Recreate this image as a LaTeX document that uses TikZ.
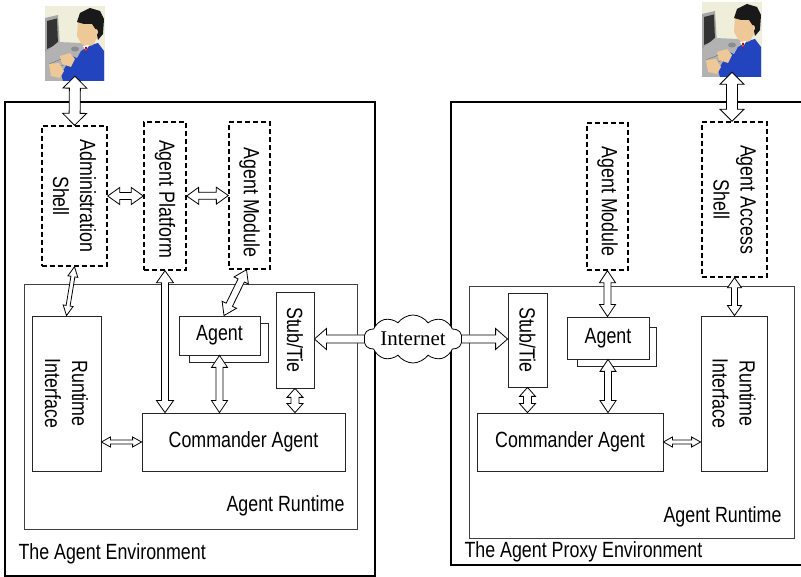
\documentclass[tikz,border=0pt]{standalone}
\usepackage{fontspec}
\setmainfont{Liberation Sans}[FakeStretch=0.81]
\newfontfamily\inetfont{Liberation Serif}
\usetikzlibrary{shapes.symbols,calc}

\definecolor{opbg}{RGB}{238,238,218}
\definecolor{jacket}{RGB}{34,68,190}
\definecolor{skin}{RGB}{238,200,150}

\tikzset{
  lbl/.style={font=\fontsize{22}{27}\selectfont},
  solidbox/.style={draw=black!85, line width=0.8pt, fill=white, inner sep=0pt},
  dashbox/.style={draw, line width=1.4pt, dash pattern=on 5pt off 3pt, fill=white, inner sep=0pt},
  envbox/.style={draw, line width=2.2pt, inner sep=0pt},
  runbox/.style={draw=black!75, line width=0.8pt, inner sep=0pt},
  vtext/.style={lbl, rotate=-90, align=center, inner sep=0pt},
  blockarrow/.style={draw, fill=white, line width=0.8pt, line join=miter},
  operator/.pic={
    \fill[opbg] (0,0) rectangle (60,75);
    % monitor
    \fill[black!35] (0,12) -- (13,9) -- (15,41) -- (0,47) -- cycle;
    \fill[black!80] (2,15) -- (12,12.5) -- (13,38) -- (2,43) -- cycle;
    % console and keyboard
    \fill[black!30] (0,47) -- (13,36) -- (36,37) -- (42,42) -- (30,75) -- (0,75) -- cycle;
    \draw[black!55, line width=0.4pt] (4,58) -- (24,50) (6,64) -- (26,56) (8,70) -- (28,62);
    \fill[black!45] (30,43) ellipse (4 and 2.5);
    % jacket and sleeve
    \fill[jacket] (27,75) -- (30,56) -- (36,45) -- (46,39) -- (53,37) -- (59,45) -- (59,75) -- cycle;
    \fill[jacket] (27,50) -- (34,53) -- (29,75) -- (18,75) -- (16,68) -- cycle;
    % face, hair, ear
    \fill[skin] (33,14) -- (50,16) -- (52,32) -- (48,39) -- (41,41) -- (36,37) -- (32,30) -- cycle;
    \fill[black!90] (32,16) -- (35,7) -- (45,2) -- (55,5) -- (59,13) -- (58,28) -- (53,34) -- (51,24) -- (47,18) -- (39,18) -- cycle;
    \fill[skin] (51,26) ellipse (2 and 3);
    % collar and tie
    \fill[white] (38,40) -- (44,39) -- (41,45) -- cycle;
    \fill[red!75!black] (40,41) -- (42,41) -- (41,48) -- cycle;
    % hands
    \fill[skin] (15,50) -- (25,47) -- (30,53) -- (26,61) -- (17,58) -- cycle;
    \fill[skin] (4,58) -- (14,57) -- (19,65) -- (15,72) -- (6,70) -- cycle;
  }
}

% hollow block arrow between two points:
% #1 = 1 for two heads, 0 for one head at the end; #2 from; #3 to;
% #4 shaft width; #5 head width; #6 head length
\newcommand\barrow[6]{%
  \path let \p1=(#2), \p2=(#3) in \pgfextra{%
    \pgfmathsetmacro\baA{atan2(\y2-\y1,\x2-\x1)}%
    \pgfmathsetmacro\baL{veclen(\x2-\x1,\y2-\y1)}%
    \xdef\baAg{\baA}\xdef\baLg{\baL}\xdef\baXg{\x1}\xdef\baYg{\y1}};
  \pgfmathsetmacro\baW{#5/2}%
  \pgfmathsetmacro\baw{#4/2}%
  \pgfmathsetmacro\baE{\baLg-#6}%
  \begin{scope}[shift={(\baXg,\baYg)}, rotate=\baAg]
    \ifnum#1=1
      \draw[blockarrow] (0,0) -- (#6,\baW) -- (#6,\baw) -- (\baE,\baw) -- (\baE,\baW)
        -- (\baLg,0) -- (\baE,-\baW) -- (\baE,-\baw) -- (#6,-\baw) -- (#6,-\baW) -- cycle;
    \else
      \fill[white] (0,\baw) -- (\baE,\baw) -- (\baE,\baW) -- (\baLg,0) -- (\baE,-\baW)
        -- (\baE,-\baw) -- (0,-\baw) -- cycle;
      \draw[blockarrow] (0,\baw) -- (\baE,\baw) -- (\baE,\baW) -- (\baLg,0) -- (\baE,-\baW)
        -- (\baE,-\baw) -- (0,-\baw);
    \fi
  \end{scope}%
}

\begin{document}
\begin{tikzpicture}[x=1pt, y=-1pt]
\useasboundingbox (0,0) rectangle (801,577);
\clip (0,0) rectangle (801,577);
\fill[white] (0,0) rectangle (801,577);

% ---------- environments ----------
\node[envbox, minimum width=370pt, minimum height=474pt] (envL) at (190,339) {};
\node[envbox, minimum width=351pt, minimum height=463pt] (envR) at (626.5,333.5) {};
\node[runbox, minimum width=333pt, minimum height=245pt] (runL) at (190.5,406.5) {};
\node[runbox, minimum width=325pt, minimum height=252pt] (runR) at (631.5,412) {};

\node[lbl, anchor=base west] (envLtxt) at (15,559) {The Agent Environment};
\node[lbl, anchor=base west] (envRtxt) at (461,557) {The Agent Proxy Environment};
\node[lbl, anchor=base east] (runLtxt) at (348,511) {Agent Runtime};
\node[lbl, anchor=base east] (runRtxt) at (785,522) {Agent Runtime};

% ---------- operators ----------
\pic at (45,6) {operator};
\node[inner sep=0pt, minimum width=60pt, minimum height=75pt] (userL) at (75,43.5) {};
\pic at (702,2) {operator};
\node[inner sep=0pt, minimum width=60pt, minimum height=75pt] (userR) at (732,39.5) {};

% ---------- agent environment ----------
\node[dashbox, minimum width=65pt, minimum height=140pt] (adm) at (74.5,196) {};
\node[vtext] at (adm.center) {Administration\\Shell};
\node[dashbox, minimum width=42pt, minimum height=148pt] (plat) at (165,196) {};
\node[vtext] at ([yshift=-3pt]plat.center) {Agent Platform};
\node[dashbox, minimum width=41pt, minimum height=147pt] (modL) at (249.5,195.5) {};
\node[vtext] at ([yshift=-7pt]modL.center) {Agent Module};

\node[solidbox, minimum width=69pt, minimum height=155pt] (riL) at (66.5,393.5) {};
\node[vtext] at (riL.center) {Runtime\\Interface};
\node[solidbox, lbl, minimum width=203pt, minimum height=58pt] (cmdL) at (243.5,442) {Commander Agent};
\node[solidbox, minimum width=79pt, minimum height=39pt] (agLb) at (228.5,342.5) {};
\node[solidbox, lbl, minimum width=81pt, minimum height=39pt] (agL) at (219.5,335.5) {Agent};
\node[solidbox, minimum width=38pt, minimum height=96pt] (stubL) at (295,340) {};
\node[vtext] at (stubL.center) {Stub/Tie};

% ---------- agent proxy environment ----------
\node[dashbox, minimum width=41pt, minimum height=147pt] (modR) at (607.5,196.5) {};
\node[vtext] at ([yshift=-5pt]modR.center) {Agent Module};
\node[dashbox, minimum width=65pt, minimum height=155pt] (acc) at (734.5,199.5) {};
\node[vtext] at (acc.center) {Agent Access\\Shell};

\node[solidbox, minimum width=39pt, minimum height=94pt] (stubR) at (527.5,340) {};
\node[vtext] at (stubR.center) {Stub/Tie};
\node[solidbox, minimum width=79pt, minimum height=39pt] (agRb) at (616.5,346.5) {};
\node[solidbox, lbl, minimum width=82pt, minimum height=42pt] (agR) at (608,338) {Agent};
\node[solidbox, minimum width=66pt, minimum height=155pt] (riR) at (734,393.5) {};
\node[vtext] at (riR.center) {Runtime\\Interface};
\node[solidbox, lbl, minimum width=186pt, minimum height=58pt] (cmdR) at (570,442) {Commander Agent};

% ---------- network ----------
\node[cloud, draw, fill=white, line width=0.8pt, cloud puffs=10, cloud puff arc=110,
      cloud ignores aspect, minimum width=98pt, minimum height=48pt, inner sep=0pt,
      font=\inetfont\fontsize{21}{24}\selectfont] (cloud) at (413,339) {Internet};

% ---------- connectors ----------
\barrow{1}{[yshift=5pt]userL.south}{adm.north}{11}{24}{12}
\barrow{1}{adm.east}{plat.west}{7}{17}{12}
\barrow{1}{plat.east}{modL.west}{7}{17}{12}
\barrow{1}{adm.south}{riL.north}{4}{10}{10}
\barrow{1}{plat.south}{plat.south |- cmdL.north}{7}{17}{12}
\barrow{1}{[xshift=-3pt]modL.south}{[xshift=4.5pt]agL.north}{7}{16}{12}
\barrow{1}{agL.south}{agL.south |- cmdL.north}{7}{16}{12}
\barrow{1}{stubL.south}{stubL.south |- cmdL.north}{8}{16}{9}
\barrow{1}{riL.east |- cmdL.west}{cmdL.west}{4}{10}{9}
\barrow{0}{cloud.west}{stubL.east |- cloud.west}{8}{21}{12}
\barrow{0}{cloud.east}{stubR.west |- cloud.east}{8}{21}{12}
\barrow{1}{stubR.south}{stubR.south |- cmdR.north}{8}{16}{9}
\barrow{1}{modR.south}{modR.south |- agR.north}{7}{16}{12}
\barrow{1}{agR.south}{agR.south |- cmdR.north}{7}{16}{12}
\barrow{1}{acc.south}{acc.south |- riR.north}{6}{14}{10}
\barrow{1}{cmdR.east}{riR.west |- cmdR.east}{4}{10}{9}
\barrow{1}{[yshift=5pt]userR.south}{userR.south |- acc.north}{11}{24}{12}
\end{tikzpicture}
\end{document}
